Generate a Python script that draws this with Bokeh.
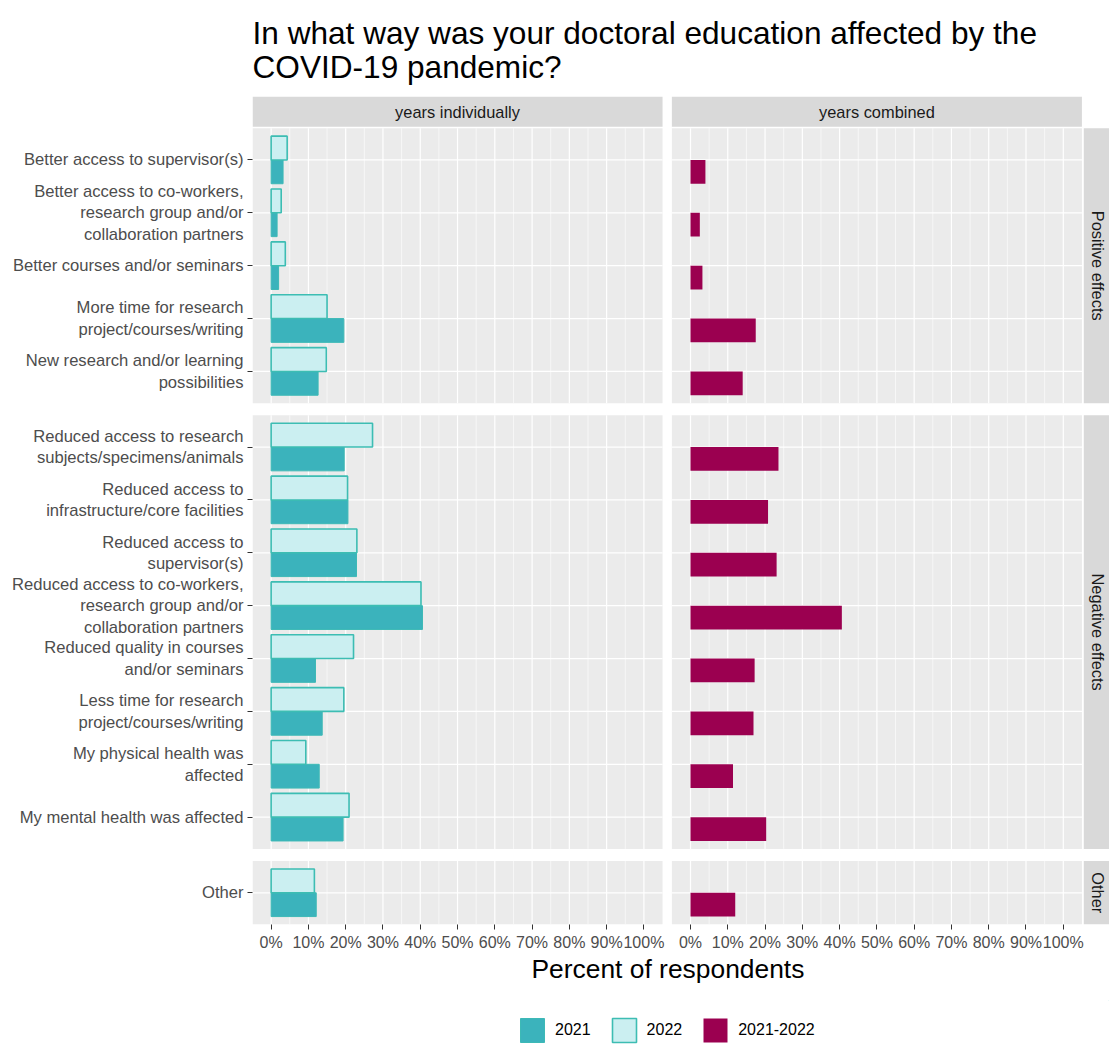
import math
from bokeh.plotting import figure
from bokeh.layouts import column
from bokeh.models import Range1d, LinearAxis, FixedTicker, Legend, LegendItem, Title
from bokeh.core.properties import value
from bokeh.embed import file_html
from bokeh.resources import INLINE

# ---------------- data ----------------
title_text = "In what way was your doctoral education affected by the\nCOVID-19 pandemic?"
x_title = "Percent of respondents"
facet_cols = ["years individually", "years combined"]
facet_rows = ["Positive effects", "Negative effects", "Other"]

categories = [
    "Better access to supervisor(s)",
    "Better access to co-workers,\nresearch group and/or\ncollaboration partners",
    "Better courses and/or seminars",
    "More time for research\nproject/courses/writing",
    "New research and/or learning\npossibilities",
    "Reduced access to research\nsubjects/specimens/animals",
    "Reduced access to\ninfrastructure/core facilities",
    "Reduced access to\nsupervisor(s)",
    "Reduced access to co-workers,\nresearch group and/or\ncollaboration partners",
    "Reduced quality in courses\nand/or seminars",
    "Less time for research\nproject/courses/writing",
    "My physical health was\naffected",
    "My mental health was affected",
    "Other",
]
category_facet = ["Positive effects"] * 5 + ["Negative effects"] * 8 + ["Other"]

pct_2021 = [3.2, 1.6, 2.0, 19.5, 12.6, 19.6, 20.6, 22.9, 40.6, 11.9, 13.7, 12.9, 19.3, 12.1]
pct_2022 = [4.3, 2.7, 3.8, 15.0, 14.8, 27.2, 20.5, 23.0, 40.2, 22.1, 19.5, 9.3, 20.9, 11.6]
pct_combined = [4.0, 2.5, 3.2, 17.5, 14.0, 23.6, 20.8, 23.1, 40.6, 17.2, 16.9, 11.4, 20.3, 12.0]

x_ticks = [0, 10, 20, 30, 40, 50, 60, 70, 80, 90, 100]
x_tick_labels = ["0%", "10%", "20%", "30%", "40%", "50%", "60%", "70%", "80%", "90%", "100%"]
x_minor = [5, 15, 25, 35, 45, 55, 65, 75, 85, 95]
series_labels = ["2021", "2022", "2021-2022"]

# ---------------- styling / layout ----------------
FONT = "Liberation Sans"
C2021 = "#3BB3BC"
C2021_LINE = "#3DB9B6"
C2022 = "#CBEFF1"
C2022_LINE = "#3DBDB3"
CCOMB = "#9B0050"
PANEL_BG = "#EBEBEB"
STRIP_BG = "#D9D9D9"

EXP = 0.6          # discrete axis expansion (slot units)
STRIP_H = 0.57
STRIP_GAP = 0.03
ROW_GAP = 0.23
BAR_H = 0.45
XLO, XHI = -5, 105
SHIFT = 112.5      # second facet column offset
XEND = 224.9
RSTRIP_GAP = 0.5
RSTRIP_W = 7.6

# y layout of facet rows
ypos = STRIP_H + STRIP_GAP
panel_rows = []
cat_y = []
for f in facet_rows:
    n = category_facet.count(f)
    top = ypos
    for i in range(n):
        cat_y.append(round(top + EXP + i, 4))
    bottom = top + 2 * EXP + (n - 1)
    panel_rows.append((top, bottom))
    ypos = bottom + ROW_GAP
Y_TOTAL = panel_rows[-1][1]

p = figure(width=1109, height=1000,
           x_range=Range1d(XLO, XEND), y_range=Range1d(Y_TOTAL, 0),
           output_backend="svg", toolbar_location=None,
           x_axis_location=None, y_axis_location=None,
           min_border_left=252, min_border_right=0,
           min_border_top=96, min_border_bottom=76)
p.extra_x_ranges = {"comb": Range1d(XLO - SHIFT, XEND - SHIFT)}
p.outline_line_color = None
p.background_fill_color = "white"
p.border_fill_color = "white"
p.grid.grid_line_color = None
p.grid.visible = False

p.title.text = title_text
p.title.text_font = FONT
p.title.text_font_size = "31.6px"
p.title.text_font_style = "normal"
p.title.text_color = "black"
p.title.text_line_height = 0.94
p.title.align = "left"
p.title.standoff = 23

cols_ranges = ["default", "comb"]

# panel backgrounds, grid, strips
for ci, rn in enumerate(cols_ranges):
    for (top, bottom) in panel_rows:
        p.quad(left=XLO, right=XHI, top=top, bottom=bottom, fill_color=PANEL_BG,
               line_color=None, x_range_name=rn)
        p.segment(x0=x_minor, x1=x_minor, y0=[top] * len(x_minor), y1=[bottom] * len(x_minor),
                  line_color="white", line_width=0.6, x_range_name=rn)
        p.segment(x0=x_ticks, x1=x_ticks, y0=[top] * len(x_ticks), y1=[bottom] * len(x_ticks),
                  line_color="white", line_width=1.2, x_range_name=rn)
    p.segment(x0=[XLO] * len(cat_y), x1=[XHI] * len(cat_y), y0=cat_y, y1=cat_y,
              line_color="white", line_width=1.2, x_range_name=rn)
    # top strip
    p.quad(left=XLO, right=XHI, top=0, bottom=STRIP_H, fill_color=STRIP_BG,
           line_color=None, x_range_name=rn)
    p.text(x=[(XLO + XHI) / 2], y=[STRIP_H / 2], text=[facet_cols[ci]],
           text_font=value(FONT), text_font_size="16.4px", text_color="#1A1A1A",
           text_align="center", text_baseline="middle", x_range_name=rn)

# right strips
for fi, (top, bottom) in enumerate(panel_rows):
    p.quad(left=XHI + RSTRIP_GAP, right=XHI + RSTRIP_GAP + RSTRIP_W, top=top, bottom=bottom,
           fill_color=STRIP_BG, line_color=None, x_range_name="comb")
    p.text(x=[XHI + RSTRIP_GAP + RSTRIP_W / 2], y=[(top + bottom) / 2], text=[facet_rows[fi]],
           angle=-math.pi / 2, text_font=value(FONT), text_font_size="16.4px",
           text_color="#1A1A1A", text_align="center", text_baseline="middle",
           x_range_name="comb")

# bars
y_2022 = [y - BAR_H / 2 for y in cat_y]
y_2021 = [y + BAR_H / 2 for y in cat_y]
r21 = p.hbar(y=y_2021, left=0, right=pct_2021, height=BAR_H, fill_color=C2021,
             line_color=C2021_LINE, line_width=1.0)
r22 = p.hbar(y=y_2022, left=0, right=pct_2022, height=BAR_H, fill_color=C2022,
             line_color=C2022_LINE, line_width=1.6)
rc = p.hbar(y=y_2021, left=0, right=pct_combined, height=BAR_H, fill_color=CCOMB,
            line_color=None, x_range_name="comb")

# axes
all_ticks = x_ticks + [t + SHIFT for t in x_ticks]
overrides = {}
for t, lab in zip(x_ticks, x_tick_labels):
    overrides[t] = lab
    overrides[t + SHIFT] = lab
xaxis = LinearAxis(ticker=FixedTicker(ticks=all_ticks, minor_ticks=[]),
                   major_label_overrides=overrides)
xaxis.axis_line_color = None
xaxis.major_tick_line_color = "#333333"
xaxis.major_tick_out = 5
xaxis.major_tick_in = 0
xaxis.minor_tick_line_color = None
xaxis.major_label_text_font = FONT
xaxis.major_label_text_font_size = "16px"
xaxis.major_label_text_color = "#4D4D4D"
xaxis.major_label_standoff = 4
p.add_layout(xaxis, "below")

xtitle = Title(text=x_title, align="left", offset=279, standoff=-3,
               text_font=FONT, text_font_size="26.4px", text_font_style="normal",
               text_color="black")
p.add_layout(xtitle, "below")

yaxis = LinearAxis(ticker=FixedTicker(ticks=cat_y, minor_ticks=[]),
                   major_label_overrides={y: c for y, c in zip(cat_y, categories)})
yaxis.axis_line_color = None
yaxis.major_tick_line_color = "#333333"
yaxis.major_tick_out = 5
yaxis.major_tick_in = 0
yaxis.minor_tick_line_color = None
yaxis.major_label_text_font = FONT
yaxis.major_label_text_font_size = "16.6px"
yaxis.major_label_text_color = "#4D4D4D"
yaxis.major_label_text_line_height = 1.13
yaxis.major_label_standoff = 4
p.add_layout(yaxis, "left")

# legend strip below the plot (legend keys only; placeholders lie outside the view)
pl = figure(width=1109, height=45, x_range=Range1d(0, 1), y_range=Range1d(0, 1),
            output_backend="svg", toolbar_location=None,
            x_axis_location=None, y_axis_location=None,
            min_border_left=0, min_border_right=0, min_border_top=0, min_border_bottom=0)
pl.outline_line_color = None
pl.background_fill_color = "white"
pl.border_fill_color = "white"
pl.grid.grid_line_color = None
pl.grid.visible = False
k21 = pl.hbar(y=[9], left=[8], right=[9], height=0.5, fill_color=C2021,
              line_color=C2021_LINE, line_width=1.0)
k22 = pl.hbar(y=[9], left=[8], right=[9], height=0.5, fill_color=C2022,
              line_color=C2022_LINE, line_width=1.6)
kc = pl.hbar(y=[9], left=[8], right=[9], height=0.5, fill_color=CCOMB, line_color=None)
legend = Legend(items=[LegendItem(label=series_labels[0], renderers=[k21]),
                       LegendItem(label=series_labels[1], renderers=[k22]),
                       LegendItem(label=series_labels[2], renderers=[kc])],
                orientation="horizontal", location=(265, 0),
                glyph_width=30, glyph_height=30, label_height=30,
                label_standoff=8, spacing=18, padding=0, margin=0,
                border_line_color=None, background_fill_alpha=0,
                label_text_font=FONT, label_text_font_size="16px",
                label_text_color="black")
pl.add_layout(legend, "center")

layout = column(p, pl, spacing=0)
open("out.html", "w").write(file_html(layout, INLINE))
